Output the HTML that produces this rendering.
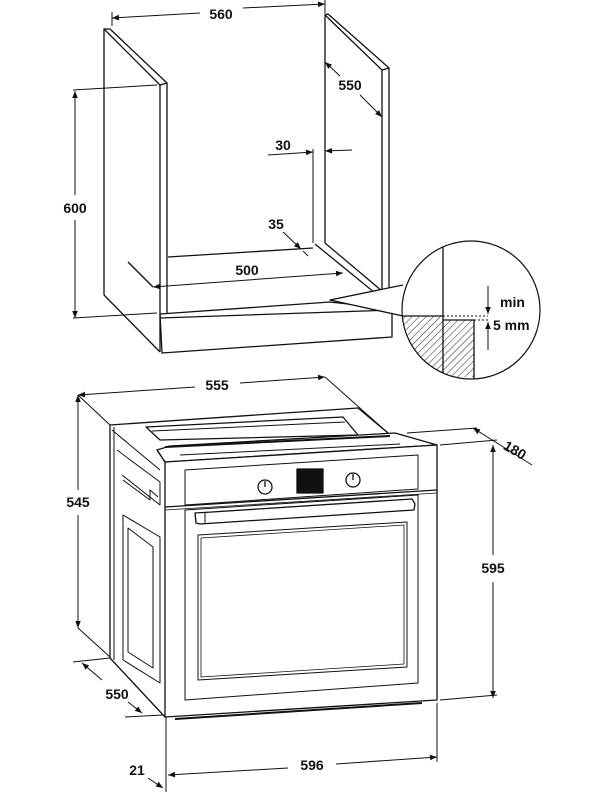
<!DOCTYPE html>
<html><head><meta charset="utf-8"><style>
html,body{margin:0;padding:0;background:#fff;}
svg{display:block;}
text{font-family:"Liberation Sans",sans-serif;font-weight:bold;font-size:14px;fill:#111;}
</style></head><body>
<svg width="600" height="800" viewBox="0 0 600 800" xmlns="http://www.w3.org/2000/svg">
<defs>
<marker id="a" viewBox="0 0 10 10" refX="10" refY="5" markerWidth="9" markerHeight="7" orient="auto-start-reverse" markerUnits="userSpaceOnUse"><path d="M0,1 L10,5 L0,9 z" fill="#111"/></marker>
<pattern id="h" width="5" height="5" patternUnits="userSpaceOnUse" patternTransform="rotate(45)"><line x1="0" y1="0" x2="0" y2="5" stroke="#222" stroke-width="1"/></pattern>
<clipPath id="c"><circle cx="471" cy="310" r="69"/></clipPath>
</defs>
<g fill="none" stroke="#111" stroke-width="1.3" stroke-linejoin="round">
<!-- cabinet left panel -->
<polygon points="104,29 110,29 167,83 160,85" fill="#fff"/>
<line x1="104" y1="29" x2="104" y2="295"/>
<line x1="160" y1="85" x2="160" y2="352"/>
<line x1="167" y1="83" x2="167" y2="313"/>
<line x1="104" y1="295" x2="160" y2="352"/>
<!-- right panel -->
<line x1="325" y1="15" x2="325" y2="243"/>
<polygon points="325,15 328,14 389,68 382,70" fill="#fff"/>
<line x1="382" y1="70" x2="382" y2="290"/>
<line x1="389" y1="68" x2="389" y2="288"/>
<line x1="315" y1="244" x2="375" y2="293"/>
<line x1="325" y1="243" x2="382" y2="291"/>
<!-- floor/plinth -->
<line x1="168" y1="257" x2="313" y2="248"/>
<polygon points="160,314 330,302 392,309 392,337 162,353"/>
<line x1="160" y1="318" x2="392" y2="310"/>
<line x1="128" y1="262" x2="153" y2="287"/>
<!-- dims cabinet -->
<line x1="112" y1="12" x2="112" y2="26" stroke-width="1"/>
<line x1="325" y1="0" x2="325" y2="14" stroke-width="1"/>
<line x1="112" y1="18" x2="200" y2="13" marker-start="url(#a)" stroke-width="1"/>
<line x1="243" y1="8" x2="325" y2="4" marker-end="url(#a)" stroke-width="1"/>
<line x1="73" y1="90" x2="157" y2="85" stroke-width="1"/>
<line x1="73" y1="318" x2="157" y2="313" stroke-width="1"/>
<line x1="75" y1="91" x2="75" y2="195" marker-start="url(#a)" stroke-width="1"/>
<line x1="75" y1="220" x2="75" y2="318" marker-end="url(#a)" stroke-width="1"/>
<line x1="325" y1="62" x2="340" y2="76" marker-start="url(#a)" stroke-width="1"/>
<line x1="360" y1="95" x2="382" y2="117" marker-end="url(#a)" stroke-width="1"/>
<line x1="268" y1="155" x2="313" y2="152" marker-end="url(#a)" stroke-width="1"/>
<line x1="352" y1="150" x2="325" y2="151" marker-end="url(#a)" stroke-width="1"/>
<line x1="313" y1="149" x2="313" y2="243" stroke-width="1"/>
<line x1="283" y1="232" x2="301" y2="249" marker-end="url(#a)" stroke-width="1"/>
<line x1="308" y1="256" x2="303" y2="251" stroke-width="1"/>
<line x1="153" y1="287" x2="343" y2="273" marker-start="url(#a)" marker-end="url(#a)" stroke-width="1"/>
<!-- inset -->
<path d="M403,285 L330,300 L403,316" fill="#fff"/>
<g clip-path="url(#c)">
<rect x="400" y="316" width="43" height="70" fill="url(#h)" stroke="none"/>
<rect x="443" y="320" width="31" height="57" fill="url(#h)" stroke="none"/>
<line x1="400" y1="316" x2="443" y2="316"/>
<line x1="443" y1="245" x2="443" y2="380"/>
<line x1="443" y1="320" x2="474" y2="320"/>
<line x1="474" y1="320" x2="474" y2="380"/>
</g>
<circle cx="471" cy="310" r="69" stroke-width="1.2"/>
<line x1="443" y1="316" x2="488" y2="316" stroke-dasharray="2,2" stroke-width="1"/>
<line x1="474" y1="320" x2="488" y2="320" stroke-dasharray="2,2" stroke-width="1"/>
<line x1="488" y1="286" x2="488" y2="314" marker-end="url(#a)" stroke-width="1"/>
<line x1="488" y1="350" x2="488" y2="322" marker-end="url(#a)" stroke-width="1"/>
<!-- oven -->
<line x1="78" y1="395" x2="195" y2="387" marker-start="url(#a)" stroke-width="1"/>
<line x1="240" y1="383" x2="325" y2="377" marker-end="url(#a)" stroke-width="1"/>
<line x1="325" y1="377" x2="388" y2="433" stroke-width="1"/>
<line x1="78" y1="395" x2="78" y2="490" marker-start="url(#a)" stroke-width="1"/>
<line x1="78" y1="515" x2="78" y2="628" marker-end="url(#a)" stroke-width="1"/>
<line x1="78" y1="395" x2="110" y2="425" stroke-width="1"/>
<line x1="78" y1="628" x2="110" y2="657" stroke-width="1"/>
<line x1="73" y1="662" x2="110" y2="658" stroke-width="1"/>
<line x1="125" y1="717" x2="163" y2="715" stroke-width="1"/>
<line x1="82" y1="663" x2="102" y2="680" marker-start="url(#a)" stroke-width="1"/>
<line x1="128" y1="702" x2="142" y2="713" marker-end="url(#a)" stroke-width="1"/>
<!-- carcass -->
<polyline points="110,425 358,408 388,433"/>
<line x1="110" y1="425" x2="110" y2="658"/>
<line x1="114" y1="427" x2="114" y2="660" stroke-width="1"/>
<line x1="110" y1="658" x2="165" y2="717"/>
<line x1="112" y1="430" x2="160" y2="470" stroke-width="1"/>
<polyline points="117,450 160,482 160,505 122,475" stroke-width="1"/>
<polyline points="123,480 150,500 150,490 158,497" stroke-width="1"/>
<polygon points="123,515 160,537 160,683 123,660" stroke-width="1"/>
<polygon points="128,528 153,547 153,668 128,652" stroke-width="1"/>
<polygon points="146,427 343,417 358,435 160,440" fill="#fff"/>
<line x1="152" y1="431" x2="345" y2="422" stroke-width="1"/>
<polygon points="157,450 170,446 395,433 437,445 165,462" fill="#fff"/>
<line x1="165" y1="447" x2="390" y2="436" stroke-width="2"/>
<line x1="180" y1="455" x2="400" y2="444" stroke-width="1"/>
<polygon points="165,462 437,445 437,700 165,717" fill="#fff"/>
<line x1="157" y1="450" x2="165" y2="462"/>
<polygon points="185,470 418,455 418,489 185,505" stroke-width="1"/>
<line x1="165" y1="507" x2="437" y2="490"/>
<line x1="165" y1="510" x2="437" y2="493" stroke-width="0.8"/>
<circle cx="265" cy="487" r="7"/>
<line x1="265" y1="487" x2="265" y2="481"/>
<circle cx="353" cy="480" r="7"/>
<line x1="353" y1="480" x2="353" y2="474"/>
<rect x="297" y="469" width="26" height="24" fill="#111"/>
<polygon points="195,513 212,512 412,499 415,504 414,510 200,524 196,523" fill="#fff"/>
<line x1="205" y1="513" x2="205" y2="524" stroke-width="1"/>
<polygon points="185,510 418,495 418,683 185,700" stroke-width="1"/>
<polygon points="198,535 407,522 407,667 198,680" stroke-width="1"/>
<polygon points="201,538 404,525 404,664 201,677" stroke-width="0.8"/>
<line x1="175" y1="719" x2="422" y2="703" stroke-width="2"/>
<!-- right dims -->
<line x1="407" y1="433" x2="477" y2="428" stroke-width="1"/>
<line x1="440" y1="445" x2="497" y2="440" stroke-width="1"/>
<line x1="440" y1="700" x2="497" y2="695" stroke-width="1"/>
<line x1="493" y1="445" x2="493" y2="555" marker-start="url(#a)" stroke-width="1"/>
<line x1="493" y1="582" x2="493" y2="698" marker-end="url(#a)" stroke-width="1"/>
<line x1="473" y1="428" x2="532" y2="465" marker-start="url(#a)" stroke-width="1"/>
<line x1="166" y1="717" x2="166" y2="792" stroke-width="1"/>
<line x1="437" y1="703" x2="437" y2="762" stroke-width="1"/>
<line x1="168" y1="775" x2="288" y2="768" marker-start="url(#a)" stroke-width="1"/>
<line x1="336" y1="764" x2="437" y2="757" marker-end="url(#a)" stroke-width="1"/>
<line x1="148" y1="778" x2="163" y2="788" marker-end="url(#a)" stroke-width="1"/>
</g>
<text x="221" y="19" text-anchor="middle">560</text>
<text x="75" y="213" text-anchor="middle">600</text>
<text x="350" y="90" text-anchor="middle">550</text>
<text x="283" y="150" text-anchor="middle">30</text>
<text x="276" y="229" text-anchor="middle">35</text>
<text x="247" y="275" text-anchor="middle">500</text>
<text x="500" y="307" font-size="13">min</text>
<text x="493" y="330" font-size="13">5 mm</text>
<text x="217" y="390" text-anchor="middle">555</text>
<text x="78" y="507" text-anchor="middle">545</text>
<text x="117" y="699" text-anchor="middle">550</text>
<text x="493" y="573" text-anchor="middle">595</text>
<text x="515" y="455" text-anchor="middle" transform="rotate(30 515 450)">180</text>
<text x="312" y="770" text-anchor="middle">596</text>
<text x="137" y="775" text-anchor="middle">21</text>
</svg>
</body></html>
